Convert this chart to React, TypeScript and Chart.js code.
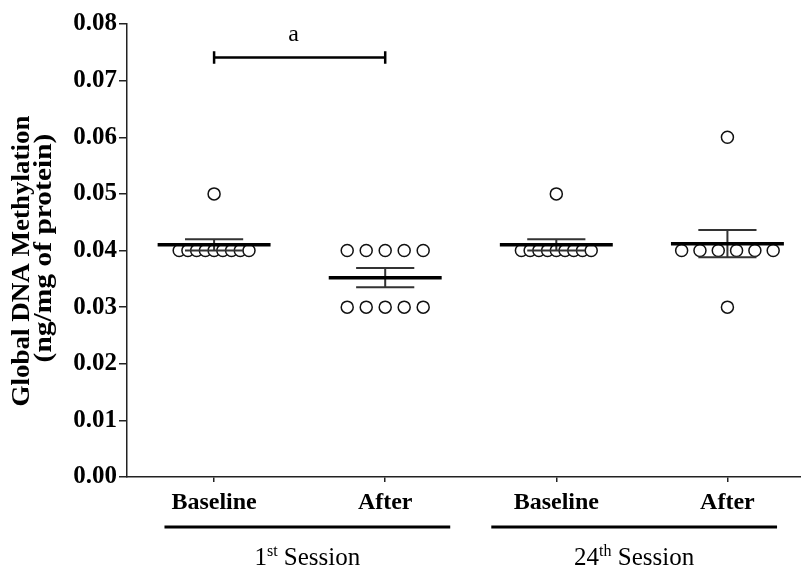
import React, { useEffect, useRef } from "react";
import { Chart, registerables } from "chart.js";

Chart.register(...registerables);

// ---------- data ----------
const categories = ["Baseline", "After", "Baseline", "After"];
const sessionNumbers = ["1", "24"];
const sessionSuffixes = ["st", "th"];
const sessionWord = "Session";
const yTicks = [0, 0.01, 0.02, 0.03, 0.04, 0.05, 0.06, 0.07, 0.08];
const yTitle = ["Global DNA Methylation", "(ng/mg of protein)"];

const baseline1st = [0.04, 0.04, 0.04, 0.04, 0.04, 0.04, 0.04, 0.04, 0.04, 0.05];
const after1st = [0.04, 0.04, 0.04, 0.04, 0.04, 0.03, 0.03, 0.03, 0.03, 0.03];
const baseline24th = [0.04, 0.04, 0.04, 0.04, 0.04, 0.04, 0.04, 0.04, 0.04, 0.05];
const after24th = [0.06, 0.04, 0.04, 0.04, 0.04, 0.04, 0.04, 0.03];

const groupMeans = [0.041, 0.0352, 0.041, 0.0412];
const groupSems = [0.001, 0.0017, 0.001, 0.0024];

const sigLabel = "a";
const sigFrom = 0;
const sigTo = 1;
const sigLevel = 0.0741;

// ---------- style constants ----------
const FONT = "'Liberation Serif', 'Times New Roman', serif";
const groups = [baseline1st, after1st, baseline24th, after24th];
const SPREAD = [0.051, 0.111, 0.051, 0.107];
const MEAN_HALF = 0.33;
const CAP_HALF = 0.17;
const SESSION_OUTER = 0.29;
const SESSION_INNER = 0.38;

function spreadPoints() {
  const pts: { x: number; y: number }[] = [];
  groups.forEach((vals, gi) => {
    const counts = new Map<number, number>();
    vals.forEach((v) => counts.set(v, (counts.get(v) || 0) + 1));
    counts.forEach((k, v) => {
      for (let i = 0; i < k; i++) {
        pts.push({ x: gi + (i - (k - 1) / 2) * SPREAD[gi], y: v });
      }
    });
  });
  return pts;
}

function meanSegments() {
  const pts: { x: number; y: number | null }[] = [];
  groupMeans.forEach((m, i) => {
    pts.push({ x: i - MEAN_HALF, y: m }, { x: i + MEAN_HALF, y: m }, { x: i + 0.45, y: null });
  });
  return pts;
}

function errorSegments() {
  const pts: { x: number; y: number | null }[] = [];
  groupMeans.forEach((m, i) => {
    const s = groupSems[i];
    pts.push({ x: i - CAP_HALF, y: m + s }, { x: i + CAP_HALF, y: m + s }, { x: i + 0.2, y: null });
    pts.push({ x: i, y: m - s }, { x: i, y: m + s }, { x: i + 0.21, y: null });
    pts.push({ x: i - CAP_HALF, y: m - s }, { x: i + CAP_HALF, y: m - s }, { x: i + 0.22, y: null });
  });
  return pts;
}

function bracketSegments() {
  const d = 0.0011;
  return [
    { x: sigFrom, y: sigLevel },
    { x: sigTo, y: sigLevel },
    { x: sigTo + 0.01, y: null },
    { x: sigFrom, y: sigLevel - d },
    { x: sigFrom, y: sigLevel + d },
    { x: sigFrom + 0.01, y: null },
    { x: sigTo, y: sigLevel - d },
    { x: sigTo, y: sigLevel + d },
  ];
}

const annotations = {
  id: "annotations",
  afterDatasetsDraw(chart: any) {
    const { ctx } = chart;
    const xs = chart.scales.x;
    const ys = chart.scales.y;
    ctx.save();
    ctx.fillStyle = "#000";
    ctx.strokeStyle = "#000";
    // significance label
    ctx.font = `24px ${FONT}`;
    ctx.textAlign = "center";
    ctx.textBaseline = "alphabetic";
    ctx.fillText(sigLabel, xs.getPixelForValue((sigFrom + sigTo) / 2) - 6, ys.getPixelForValue(sigLevel) - 16);

    // y-axis title (two lines, rotated)
    ctx.font = `bold 25px ${FONT}`;
    ctx.textAlign = "center";
    ctx.textBaseline = "middle";
    const titleBoxes = [
      { x: 23, y: 261, sx: 1.08 },
      { x: 45, y: 248, sx: 1.18 },
    ];
    yTitle.forEach((line, i) => {
      ctx.save();
      ctx.translate(titleBoxes[i].x, titleBoxes[i].y);
      ctx.rotate(-Math.PI / 2);
      ctx.scale(titleBoxes[i].sx, 1);
      ctx.fillText(line, 0, 0);
      ctx.restore();
    });

    // session lines and labels
    const lineY = xs.top + 50;
    sessionNumbers.forEach((num, i) => {
      const outerLeft = i === 0;
      const x1 = xs.getPixelForValue(2 * i - (outerLeft ? SESSION_OUTER : SESSION_INNER));
      const x2 = xs.getPixelForValue(2 * i + 1 + (outerLeft ? SESSION_INNER : SESSION_OUTER));
      ctx.lineWidth = 3;
      ctx.beginPath();
      ctx.moveTo(x1, lineY);
      ctx.lineTo(x2, lineY);
      ctx.stroke();

      const bigFont = `25px ${FONT}`;
      const supFont = `16px ${FONT}`;
      ctx.font = bigFont;
      const wNum = ctx.measureText(num).width;
      const wWord = ctx.measureText(" " + sessionWord).width;
      ctx.font = supFont;
      const wSup = ctx.measureText(sessionSuffixes[i]).width;
      const total = wNum + wSup + wWord;
      let x = (x1 + x2) / 2 - total / 2;
      const baseY = xs.top + 88;
      ctx.textAlign = "left";
      ctx.textBaseline = "alphabetic";
      ctx.font = bigFont;
      ctx.fillText(num, x, baseY);
      x += wNum;
      ctx.font = supFont;
      ctx.fillText(sessionSuffixes[i], x, baseY - 9);
      x += wSup;
      ctx.font = bigFont;
      ctx.fillText(" " + sessionWord, x, baseY);
    });
    ctx.restore();
  },
};

export default function App() {
  const ref = useRef<HTMLCanvasElement | null>(null);
  useEffect(() => {
    if (!ref.current) return;
    const chart = new Chart(ref.current, {
      type: "scatter",
      data: {
        datasets: [
          {
            data: meanSegments(),
            showLine: true,
            borderColor: "#000",
            borderWidth: 3.5,
            pointRadius: 0,
            spanGaps: false,
            order: 0,
          } as any,
          {
            data: errorSegments(),
            showLine: true,
            borderColor: "#333",
            borderWidth: 2,
            pointRadius: 0,
            spanGaps: false,
            order: 0,
          },
          {
            data: bracketSegments(),
            showLine: true,
            borderColor: "#000",
            borderWidth: 2.5,
            pointRadius: 0,
            spanGaps: false,
            order: 0,
          },
          {
            data: spreadPoints(),
            showLine: false,
            pointStyle: "circle",
            pointRadius: 6,
            pointBackgroundColor: "#fff",
            pointBorderColor: "#111",
            pointBorderWidth: 1.5,
            order: 1,
          },
        ],
      },
      options: {
        animation: false,
        responsive: false,
        devicePixelRatio: 1,
        layout: { autoPadding: false, padding: { top: 24, left: 0, right: 0, bottom: 0 } },
        plugins: { legend: { display: false }, tooltip: { enabled: false } },
        scales: {
          x: {
            type: "linear",
            min: -0.509,
            max: 3.43,
            afterBuildTicks: (s: any) => {
              s.ticks = categories.map((_, i) => ({ value: i }));
            },
            afterFit: (s: any) => {
              s.height = 96;
            },
            ticks: {
              callback: (v: any) => categories[Math.round(Number(v))] ?? "",
              autoSkip: false,
              maxRotation: 0,
              color: "#000",
              padding: 6,
              font: { family: FONT, size: 24, weight: "bold" },
            },
            grid: { drawOnChartArea: false, drawTicks: true, tickLength: 5, color: "#222", lineWidth: 1.5 },
            border: { display: true, color: "#222", width: 1.5 },
          },
          y: {
            type: "linear",
            min: 0,
            max: 0.08,
            afterBuildTicks: (s: any) => {
              s.ticks = yTicks.map((v) => ({ value: v }));
            },
            afterFit: (s: any) => {
              s.width = 127;
            },
            ticks: {
              callback: (v: any) => Number(v).toFixed(2),
              color: "#000",
              padding: 2,
              font: { family: FONT, size: 25, weight: "bold" },
            },
            grid: { drawOnChartArea: false, drawTicks: true, tickLength: 8, color: "#222", lineWidth: 1.5 },
            border: { display: true, color: "#222", width: 1.5 },
          },
        },
      },
      plugins: [annotations],
    });
    return () => chart.destroy();
  }, []);
  return (
    <div style={{ position: "fixed", left: 0, top: 0, width: 801, height: 573, background: "#fff" }}>
      <canvas ref={ref} width={801} height={573} style={{ display: "block" }} />
    </div>
  );
}
